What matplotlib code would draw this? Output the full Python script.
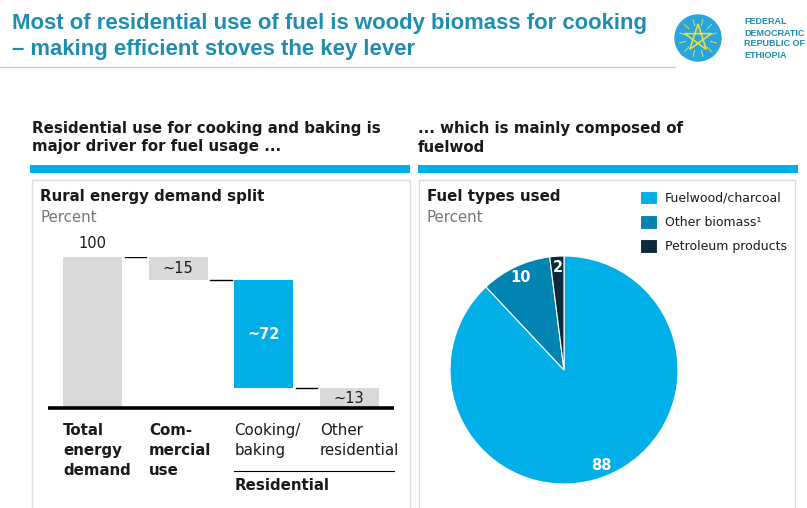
import numpy as np
import matplotlib
matplotlib.use('Agg')
import matplotlib.pyplot as plt
from matplotlib.patches import Rectangle, Circle, Polygon

## Data
wf_labels = ['Total\nenergy\ndemand', 'Com-\nmercial\nuse', 'Cooking/\nbaking', 'Other\nresidential']
wf_bold = [True, True, False, False]
wf_values = [100, 15, 72, 13]
wf_texts = ['100', '~15', '~72', '~13']
wf_kinds = ['total', 'step', 'step', 'step']

fuel_labels = ['Fuelwood/charcoal', 'Other biomass\u00b9', 'Petroleum products']
fuel_values = [88, 10, 2]

## Styles
TEAL = '#1f8db0'
BLUE = '#00aee8'
MID = '#0284b3'
DARK = '#0b2b3b'
GREY = '#d9d9d9'
TXT = '#1a1a1a'
plt.rcParams['font.family'] = ['DejaVu Sans']
TITLE_FONT = ['Liberation Sans', 'DejaVu Sans']
FS = 10.8

W, H = 807, 508
fig = plt.figure(figsize=(W / 100, H / 100), dpi=100)

## Background axes in pixel coordinates for slide furniture
bg = fig.add_axes([0, 0, 1, 1])
bg.set_xlim(0, W)
bg.set_ylim(H, 0)
bg.axis('off')

bg.text(12, 29, 'Most of residential use of fuel is woody biomass for cooking', fontsize=15.9,
        fontweight='bold', color=TEAL, family=TITLE_FONT, va='baseline')
bg.text(12, 55, '\u2013 making efficient stoves the key lever', fontsize=15.9,
        fontweight='bold', color=TEAL, family=TITLE_FONT, va='baseline')
bg.plot([0, 675], [67, 67], color='#d0d0d0', lw=1)

# logo
cx, cy = 698, 38
bg.add_patch(Circle((cx, cy), 23, color='#2aa5db'))
for a in np.deg2rad(np.arange(0, 360, 30) + 15):
    bg.plot([cx + 13 * np.cos(a), cx + 19 * np.cos(a)], [cy - 13 * np.sin(a), cy - 19 * np.sin(a)],
            color='#e6dc50', lw=0.7)
ang = np.deg2rad(90 + 144 * np.arange(5))
bg.add_patch(Polygon(np.c_[cx + 14 * np.cos(ang), cy - 14 * np.sin(ang)], closed=True,
                     fill=False, ec='#e6dc50', lw=1.2))
for i, s in enumerate(['FEDERAL', 'DEMOCRATIC', 'REPUBLIC OF', 'ETHIOPIA']):
    bg.text(744, 22 + 11 * i, s, fontsize=6.5, fontweight='bold', color=TEAL,
            family=TITLE_FONT, va='center')

# section headers
bg.text(32, 128, 'Residential use for cooking and baking is', fontsize=FS,
        fontweight='bold', color=TXT, va='center')
bg.text(32, 147, 'major driver for fuel usage ...', fontsize=FS,
        fontweight='bold', color=TXT, va='center')
bg.text(418, 128, '... which is mainly composed of', fontsize=FS,
        fontweight='bold', color=TXT, va='center')
bg.text(418, 147, 'fuelwod', fontsize=FS, fontweight='bold', color=TXT, va='center')
bg.add_patch(Rectangle((30, 165), 380, 8, color=BLUE, lw=0))
bg.add_patch(Rectangle((418, 165), 380, 8, color=BLUE, lw=0))

# panels
bg.add_patch(Rectangle((32, 180), 378, 340, fill=False, ec='#dcdcdc', lw=1))
bg.add_patch(Rectangle((419, 180), 376, 340, fill=False, ec='#dcdcdc', lw=1))
bg.text(40, 197, 'Rural energy demand split', fontsize=FS, fontweight='bold',
        color=TXT, va='center')
bg.text(40, 218, 'Percent', fontsize=FS, color='#777777', va='center')
bg.text(427, 197, 'Fuel types used', fontsize=FS, fontweight='bold',
        color=TXT, va='center')
bg.text(427, 218, 'Percent', fontsize=FS, color='#777777', va='center')

## Waterfall
ax = fig.add_axes([50 / W, (H - 408) / H, 342 / W, 151 / H])
x = np.arange(len(wf_values))
bottoms, heights, tops = [], [], []
level = 0
for v, k in zip(wf_values, wf_kinds):
    if k == 'total':
        level = v
        bottoms.append(0)
    else:
        level -= v
        bottoms.append(level)
    heights.append(v)
    tops.append(bottoms[-1] + v)
colors = [GREY, GREY, BLUE, GREY]
bw = 0.69
ax.bar(x, heights, bottom=bottoms, width=bw, color=colors, lw=0)
for i in range(len(x) - 1):
    lvl = bottoms[i] if wf_kinds[i + 1] == 'step' and i > 0 else tops[i]
    ax.plot([x[i] + bw / 2 + 0.03, x[i + 1] - bw / 2 - 0.03], [lvl, lvl],
            color='black', lw=1)
for i, t in enumerate(wf_texts):
    if wf_kinds[i] == 'total':
        ax.text(x[i], tops[i] + 4, t, ha='center', va='bottom', fontsize=10.5, color=TXT)
    else:
        big = colors[i] == BLUE
        ax.text(x[i], bottoms[i] + heights[i] / 2, t, ha='center', va='center',
                fontsize=10.5, color='white' if big else TXT,
                fontweight='bold' if big else 'normal')
ax.plot([-0.52, 3.52], [0, 0], color='black', lw=2.6, clip_on=False, solid_capstyle='butt')
for i, (lab, b) in enumerate(zip(wf_labels, wf_bold)):
    ax.text(x[i] - bw / 2, -10, lab, ha='left', va='top', fontsize=FS, color=TXT,
            fontweight='bold' if b else 'normal', linespacing=1.4, clip_on=False)
ax.plot([2 - bw / 2, 3.52], [-41.5, -41.5], color='black', lw=0.8, clip_on=False)
ax.text(2 - bw / 2, -51.5, 'Residential', ha='left', va='center', fontsize=FS,
        fontweight='bold', color=TXT, clip_on=False)
ax.set_xlim(-0.5, 3.5)
ax.set_ylim(0, 100)
ax.axis('off')

## Pie
R = 114
pa = fig.add_axes([(564 - R) / W, (H - 370 - R) / H, 2 * R / W, 2 * R / H])
wedges, _, autotexts = pa.pie(fuel_values, colors=[BLUE, MID, DARK], startangle=90,
                              counterclock=False, autopct=lambda p: f'{p:.0f}',
                              pctdistance=0.9,
                              wedgeprops=dict(edgecolor='white', linewidth=0.8),
                              textprops=dict(color='white', fontsize=10.5, fontweight='bold'))
pa.set_xlim(-1, 1)
pa.set_ylim(-1, 1)
LFS = 9
pa.legend(wedges, fuel_labels, loc='upper left', bbox_to_anchor=(640 / W, 1 - 191 / H),
          bbox_transform=fig.transFigure, frameon=False, fontsize=LFS, borderpad=0,
          borderaxespad=0, handlelength=1.36, handleheight=1.28, handletextpad=0.64,
          labelspacing=0.82, labelcolor=TXT)

fig.savefig('out.png', dpi=100)
